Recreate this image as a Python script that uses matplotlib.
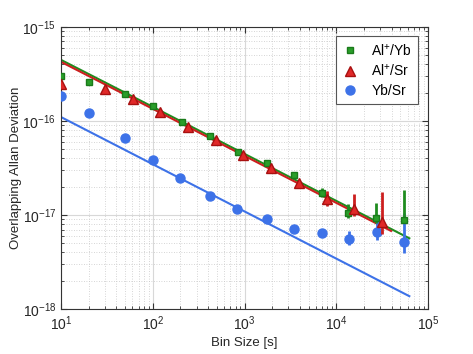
import numpy as np
import matplotlib
matplotlib.use("Agg")
import matplotlib.pyplot as plt
from matplotlib.lines import Line2D
from matplotlib.ticker import LogLocator, NullFormatter

plt.rcParams['font.family'] = ['Liberation Sans', 'DejaVu Sans']
plt.rcParams['mathtext.fontset'] = 'custom'
plt.rcParams['mathtext.rm'] = 'Liberation Sans'

# Al+/Yb (green squares)
alyb_tau = [10, 20, 50, 100, 210, 420, 840, 1745, 3470, 6930, 13500, 27100, 54700]
alyb_dev = [3.03e-16, 2.58e-16, 1.94e-16, 1.45e-16, 9.84e-17, 6.98e-17, 4.68e-17,
            3.55e-17, 2.67e-17, 1.73e-17, 1.06e-17, 9.35e-18, 8.85e-18]
alyb_lo = [0, 0, 0, 0, 0, 0, 0, 0, 1.5e-18, 1.6e-18, 1.3e-18, 1.2e-18, 3.5e-19]
alyb_hi = [0, 0, 0, 0, 0, 0, 0, 0, 1.5e-18, 2.1e-18, 2.5e-18, 4.2e-18, 9.6e-18]

# Al+/Sr (red triangles)
alsr_tau = [10, 30, 61, 121, 240, 489, 970, 1945, 3960, 7870, 15700, 31500]
alsr_dev = [2.46e-16, 2.17e-16, 1.70e-16, 1.24e-16, 8.69e-17, 6.28e-17, 4.35e-17,
            3.18e-17, 2.17e-17, 1.47e-17, 1.15e-17, 8.5e-18]
alsr_lo = [0, 0, 0, 0, 0, 0, 0, 0, 1.6e-18, 2.1e-18, 1.7e-18, 2.2e-18]
alsr_hi = [0, 0, 0, 0, 0, 0, 0, 0, 1.8e-18, 3.3e-18, 5.1e-18, 9.2e-18]

# Yb/Sr (blue circles)
ybsr_tau = [10, 20, 50, 100, 200, 424, 835, 1745, 3490, 7000, 13900, 27500, 54700]
ybsr_dev = [1.86e-16, 1.21e-16, 6.55e-17, 3.85e-17, 2.45e-17, 1.60e-17, 1.16e-17,
            9.0e-18, 7.05e-18, 6.49e-18, 5.5e-18, 6.64e-18, 5.1e-18]
ybsr_lo = [0, 0, 0, 0, 0, 0, 0, 0, 5e-19, 6e-19, 7.1e-19, 1.22e-18, 1.16e-18]
ybsr_hi = [0, 0, 0, 0, 0, 0, 0, 0, 5e-19, 6e-19, 1.26e-18, 2.91e-18, 5.5e-18]

# white-noise fit lines (end points)
alyb_fit_tau = [10, 62500]
alyb_fit_dev = [4.46e-16, 5.65e-18]
alsr_fit_tau = [10, 39500]
alsr_fit_dev = [4.25e-16, 6.77e-18]
ybsr_fit_tau = [10, 62500]
ybsr_fit_dev = [1.10e-16, 1.37e-18]

labels = ['Al$^{+}$/Yb', 'Al$^{+}$/Sr', 'Yb/Sr']
x_ticks = [1e1, 1e2, 1e3, 1e4, 1e5]
x_ticklabels = ['$10^{1}$', '$10^{2}$', '$10^{3}$', '$10^{4}$', '$10^{5}$']
y_ticks = [1e-18, 1e-17, 1e-16, 1e-15]
y_ticklabels = ['$10^{-18}$', '$10^{-17}$', '$10^{-16}$', '$10^{-15}$']

green = '#1f8c1f'
red = '#cc1f1f'
blue = '#3d72e8'

fig = plt.figure(figsize=(4.73, 3.54), dpi=100)
ax = fig.add_axes([0.129, 0.127, 0.776, 0.797])

ax.plot(alyb_fit_tau, alyb_fit_dev, color=green, lw=1.5, zorder=2)
ax.plot(alsr_fit_tau, alsr_fit_dev, color=red, lw=1.5, zorder=2)
ax.plot(ybsr_fit_tau, ybsr_fit_dev, color=blue, lw=1.5, zorder=2)

ax.errorbar(ybsr_tau, ybsr_dev, yerr=[ybsr_lo, ybsr_hi], fmt='o', ms=6.5,
            color=blue, mfc=blue, mec=blue, elinewidth=2, capsize=0, zorder=3)
ax.errorbar(alyb_tau, alyb_dev, yerr=[alyb_lo, alyb_hi], fmt='s', ms=5,
            color=green, mfc='#2a9e2a', mec='#1a7a1a', elinewidth=2, capsize=0,
            zorder=4)
ax.errorbar(alsr_tau, alsr_dev, yerr=[alsr_lo, alsr_hi], fmt='^', ms=7.5,
            color=red, mfc='#e02828', mec='#a81010', elinewidth=2, capsize=0,
            zorder=5)

ax.set_xscale('log')
ax.set_yscale('log')
ax.set_xlim(10, 1e5)
ax.set_ylim(1e-18, 1e-15)
ax.set_xticks(x_ticks)
ax.set_xticklabels(x_ticklabels)
ax.set_yticks(y_ticks)
ax.set_yticklabels(y_ticklabels)
ax.xaxis.set_minor_locator(LogLocator(base=10, subs=np.arange(2, 10), numticks=20))
ax.yaxis.set_minor_locator(LogLocator(base=10, subs=np.arange(2, 10), numticks=20))
ax.xaxis.set_minor_formatter(NullFormatter())
ax.yaxis.set_minor_formatter(NullFormatter())

ax.grid(True, which='major', color='#d8d8d8', lw=0.8)
ax.grid(True, which='minor', color='#c8c8c8', lw=0.6, ls=(0, (1, 2)))
ax.set_axisbelow(True)
ax.tick_params(which='both', direction='in', top=True, right=True, labelsize=10,
               color='#333333', labelcolor='#262626')
ax.tick_params(which='major', length=4)
ax.tick_params(which='minor', length=2)
for s in ax.spines.values():
    s.set_color('#333333')
    s.set_linewidth(0.8)

ax.set_xlabel('Bin Size [s]', fontsize=9.5, color='#262626', labelpad=3)
ax.set_ylabel('Overlapping Allan Deviation', fontsize=9.5, color='#262626',
              labelpad=0)

handles = [
    Line2D([], [], ls='none', marker='s', ms=5, mfc='#2a9e2a', mec='#1a7a1a'),
    Line2D([], [], ls='none', marker='^', ms=7.5, mfc='#e02828', mec='#a81010'),
    Line2D([], [], ls='none', marker='o', ms=6.5, mfc=blue, mec=blue),
]
leg = ax.legend(handles, labels, loc='upper right',
                bbox_to_anchor=(0.973, 0.968), borderaxespad=0, fontsize=10,
                fancybox=False, edgecolor='#555555', framealpha=1,
                handlelength=1.2, handletextpad=0.9, borderpad=0.45,
                labelspacing=0.35)
leg.get_frame().set_linewidth(0.8)

fig.savefig('out.png', dpi=100)
